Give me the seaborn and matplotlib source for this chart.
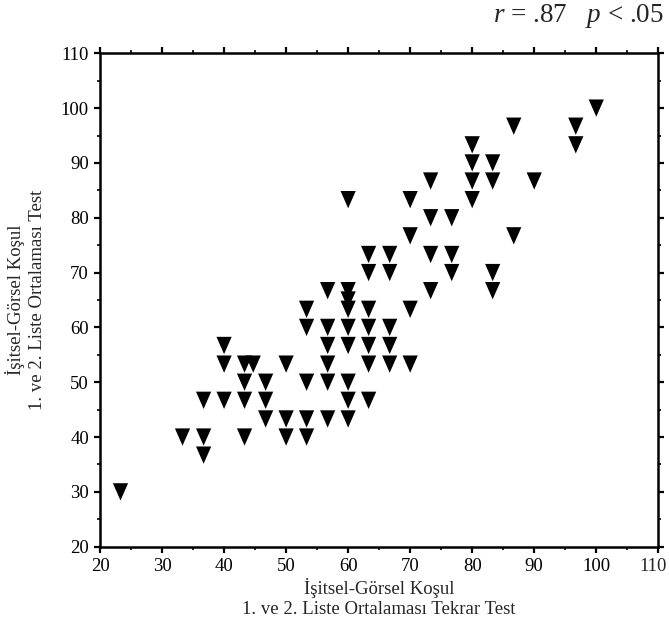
import numpy as np
import pandas as pd
import matplotlib
matplotlib.use("Agg")
import matplotlib.pyplot as plt
from matplotlib.path import Path
from matplotlib.ticker import MultipleLocator
from matplotlib.transforms import ScaledTranslation
import seaborn as sns

# Retest averages (lists 1 and 2) on the x axis, test averages on the y axis
retest = [
    23.3,
    33.3,
    36.7, 36.7, 36.7,
    40, 40, 40,
    43.3, 43.3, 43.3, 43.3,
    44.7,
    46.7, 46.7, 46.7,
    50, 50, 50,
    53.3, 53.3, 53.3, 53.3, 53.3,
    56.7, 56.7, 56.7, 56.7, 56.7, 56.7,
    60, 60, 60, 60, 60, 60, 60, 60, 60,
    63.3, 63.3, 63.3, 63.3, 63.3, 63.3, 63.3,
    66.7, 66.7, 66.7, 66.7, 66.7,
    70, 70, 70, 70,
    73.3, 73.3, 73.3, 73.3,
    76.7, 76.7, 76.7,
    80, 80, 80, 80,
    83.3, 83.3, 83.3, 83.3,
    86.7, 86.7,
    90,
    96.7, 96.7,
    100,
]
test = [
    30,
    40,
    36.7, 40, 46.7,
    46.7, 53.3, 56.7,
    40, 46.7, 50, 53.3,
    53.3,
    43.3, 46.7, 50,
    40, 43.3, 53.3,
    40, 43.3, 50, 60, 63.3,
    43.3, 50, 53.3, 56.7, 60, 66.7,
    43.3, 46.7, 50, 56.7, 60, 63.3, 65, 66.7, 83.3,
    46.7, 53.3, 56.7, 60, 63.3, 70, 73.3,
    53.3, 56.7, 60, 70, 73.3,
    53.3, 63.3, 76.7, 83.3,
    66.7, 73.3, 80, 86.7,
    70, 73.3, 80,
    83.3, 86.7, 90, 93.3,
    66.7, 70, 86.7, 90,
    76.7, 96.7,
    86.7,
    93.3, 96.7,
    100,
]

tick_values = [20, 30, 40, 50, 60, 70, 80, 90, 100, 110]
tick_labels = ["20", "30", "40", "50", "60", "70", "80", "90", "100", "110"]

x_label = "İşitsel-Görsel Koşul\n1. ve 2. Liste Ortalaması Tekrar Test"
y_label = "İşitsel-Görsel Koşul\n1. ve 2. Liste Ortalaması Test"
stats_text = r"$r$ = .87   $p$ < .05"

df = pd.DataFrame({"retest": retest, "test": test})

sns.set_theme(style="ticks")
plt.rcParams["font.family"] = ["Liberation Serif", "DejaVu Serif"]
plt.rcParams["mathtext.fontset"] = "custom"
plt.rcParams["mathtext.rm"] = "Liberation Serif"
plt.rcParams["mathtext.it"] = "Liberation Serif:italic"

fig = plt.figure(figsize=(6.69, 6.26), dpi=100)
ax = fig.add_axes([0.1495, 0.1267, 0.8345, 0.7882])

# solid downward triangle, slightly taller than wide
tri = Path([(-0.88, 1.0), (0.88, 1.0), (0.0, -1.0), (-0.88, 1.0)],
           [Path.MOVETO, Path.LINETO, Path.LINETO, Path.CLOSEPOLY])

sns.scatterplot(data=df, x="retest", y="test", ax=ax, marker=tri,
                s=155, color="black", edgecolor="none", linewidth=0)

ax.set_xlim(tick_values[0], tick_values[-1])
ax.set_ylim(tick_values[0], tick_values[-1])

# the last x label is drawn separately so it can sit inside the figure edge
ax.set_xticks(tick_values, labels=tick_labels[:-1] + [""])
ax.set_yticks(tick_values, labels=tick_labels)
ax.xaxis.set_minor_locator(MultipleLocator(5))
ax.yaxis.set_minor_locator(MultipleLocator(5))

for side in ["left", "right", "top", "bottom"]:
    ax.spines[side].set_visible(True)
    ax.spines[side].set_linewidth(1.8)
    ax.spines[side].set_color("black")

ax.tick_params(which="major", direction="out", length=4, width=1.6,
               top=True, right=True, labelsize=13.5, pad=4, colors="black")
ax.tick_params(which="minor", direction="out", length=2.5, width=1.4,
               top=True, right=True)

offset = ScaledTranslation(-5 / 100, -8 / 72, fig.dpi_scale_trans)
ax.text(tick_values[-1], 0, tick_labels[-1], fontsize=13.5, ha="center", va="top",
        transform=ax.get_xaxis_transform() + offset)

ax.set_xlabel(x_label, fontsize=13.5, linespacing=1.3, labelpad=2)
ax.set_ylabel(y_label, fontsize=13.5, linespacing=1.3, labelpad=11)
ax.grid(False)

fig.text(0.993, 0.975, stats_text, ha="right", va="center", fontsize=19.5)

fig.savefig("out.png", dpi=100, facecolor="white")
